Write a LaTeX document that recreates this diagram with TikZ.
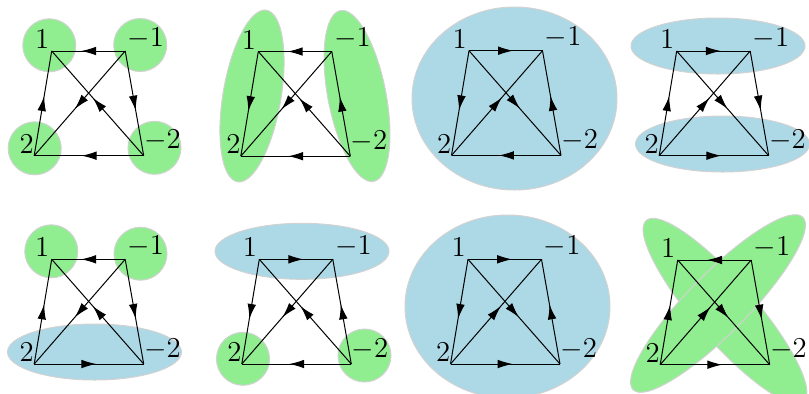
\documentclass[tikz,border=0pt]{standalone}
\usetikzlibrary{arrows.meta,decorations.markings}
\definecolor{lgreen}{HTML}{90EE90}
\definecolor{lblue}{HTML}{ADD8E6}
\definecolor{rim}{HTML}{D2D2D2}
\tikzset{
  blobG/.style={fill=lgreen, draw=rim, line width=0.5pt},
  blobB/.style={fill=lblue, draw=rim, line width=0.5pt},
  edge/.style={line width=0.5pt, postaction={decorate},
    decoration={markings, mark=at position 0.5 with {\arrow[xshift=3.7pt]{Latex[length=7.5pt,width=4.3pt]}}}},
  lbl/.style={inner sep=1pt, font=\fontsize{14.5}{17}\selectfont},
}
\newcommand\mkpanel[3]{%
  \coordinate (#1a) at (#2,#3);
  \coordinate (#1b) at (#2+73.5,#3);
  \coordinate (#1c) at (#2-17.5,#3+104.7);
  \coordinate (#1d) at (#2+92,#3+104.7);
  \node[lbl,anchor=south east] (#1la) at (#1a) {$1$};
  \node[lbl,anchor=south west] (#1lb) at (#1b) {$-1$};
  \node[lbl,anchor=south east,xshift=1pt] (#1lc) at (#1c) {$2$};
  \node[lbl,anchor=south west,xshift=-1pt,yshift=1pt] (#1ld) at (#1d) {$-2$};
}
\begin{document}
\begin{tikzpicture}[x=0.5pt,y=-0.5pt]
\useasboundingbox (0,0) rectangle (809,393);
\clip (0,0) rectangle (809,393);
% ---- blobs ----
% panel 1
\draw[blobG] (49.3,45.3) ellipse [x radius=13.25pt, y radius=13.25pt];
\draw[blobG] (140.2,45) ellipse [x radius=13.25pt, y radius=13.25pt];
\draw[blobG] (34.7,148.3) ellipse [x radius=13.25pt, y radius=13.25pt];
\draw[blobG] (154.5,147.8) ellipse [x radius=13.25pt, y radius=13.25pt];
% panel 2
\draw[blobG, rotate around={-9.6:(252,96)}] (252,96) ellipse [x radius=14.5pt, y radius=43.5pt];
\draw[blobG, rotate around={11:(357,96)}] (357,96) ellipse [x radius=14.5pt, y radius=43.5pt];
% panel 3
\draw[blobB] (514.5,98.5) ellipse [x radius=51.25pt, y radius=45.75pt];
% panel 4
\draw[blobB] (718,46) ellipse [x radius=43.5pt, y radius=14pt];
\draw[blobB] (722.5,144) ellipse [x radius=43.5pt, y radius=14pt];
% panel 5
\draw[blobG] (51.3,251.3) ellipse [x radius=13.25pt, y radius=13.25pt];
\draw[blobG] (140.5,253.7) ellipse [x radius=13.25pt, y radius=13.25pt];
\draw[blobB] (94.5,352) ellipse [x radius=43.5pt, y radius=14pt];
% panel 6
\draw[blobB] (302,251.3) ellipse [x radius=43.5pt, y radius=14pt];
\draw[blobG] (243,358.8) ellipse [x radius=13.25pt, y radius=13.25pt];
\draw[blobG] (364.5,355.5) ellipse [x radius=13.25pt, y radius=13.25pt];
% panel 7
\draw[blobB] (507.5,306.5) ellipse [x radius=51.25pt, y radius=45.75pt];
% panel 8
\draw[blobG, rotate around={-49:(725,311)}] (725,311) ellipse [x radius=60pt, y radius=15pt];
\draw[blobG, rotate around={45.5:(718,303.5)}] (718,303.5) ellipse [x radius=60.5pt, y radius=15pt];
% ---- panels ----
\mkpanel{p1}{51.7}{51}
\mkpanel{p2}{258.3}{51.5}
\mkpanel{p3}{469}{50.7}
\mkpanel{p4}{676.7}{51}
\mkpanel{p5}{51.7}{259.3}
\mkpanel{p6}{259.3}{259.3}
\mkpanel{p7}{468}{259.3}
\mkpanel{p8}{677.7}{260}
% panel 1
\draw[edge] (p1b) -- (p1a);
\draw[edge] (p1d) -- (p1c);
\draw[edge] (p1c) -- (p1a);
\draw[edge] (p1b) -- (p1d);
\draw[edge] (p1d) -- (p1a);
\draw[edge] (p1b) -- (p1c);
% panel 2
\draw[edge] (p2b) -- (p2a);
\draw[edge] (p2d) -- (p2c);
\draw[edge] (p2a) -- (p2c);
\draw[edge] (p2d) -- (p2b);
\draw[edge] (p2d) -- (p2a);
\draw[edge] (p2b) -- (p2c);
% panel 3
\draw[edge] (p3a) -- (p3b);
\draw[edge] (p3d) -- (p3c);
\draw[edge] (p3a) -- (p3c);
\draw[edge] (p3d) -- (p3b);
\draw[edge] (p3a) -- (p3d);
\draw[edge] (p3c) -- (p3b);
% panel 4
\draw[edge] (p4a) -- (p4b);
\draw[edge] (p4c) -- (p4d);
\draw[edge] (p4c) -- (p4a);
\draw[edge] (p4b) -- (p4d);
\draw[edge] (p4a) -- (p4d);
\draw[edge] (p4c) -- (p4b);
% panel 5
\draw[edge] (p5b) -- (p5a);
\draw[edge] (p5c) -- (p5d);
\draw[edge] (p5c) -- (p5a);
\draw[edge] (p5b) -- (p5d);
\draw[edge] (p5d) -- (p5a);
\draw[edge] (p5b) -- (p5c);
% panel 6
\draw[edge] (p6a) -- (p6b);
\draw[edge] (p6d) -- (p6c);
\draw[edge] (p6a) -- (p6c);
\draw[edge] (p6d) -- (p6b);
\draw[edge] (p6d) -- (p6a);
\draw[edge] (p6b) -- (p6c);
% panel 7
\draw[edge] (p7a) -- (p7b);
\draw[edge] (p7c) -- (p7d);
\draw[edge] (p7a) -- (p7c);
\draw[edge] (p7d) -- (p7b);
\draw[edge] (p7a) -- (p7d);
\draw[edge] (p7c) -- (p7b);
% panel 8
\draw[edge] (p8b) -- (p8a);
\draw[edge] (p8c) -- (p8d);
\draw[edge] (p8c) -- (p8a);
\draw[edge] (p8b) -- (p8d);
\draw[edge] (p8a) -- (p8d);
\draw[edge] (p8c) -- (p8b);
\end{tikzpicture}
\end{document}
